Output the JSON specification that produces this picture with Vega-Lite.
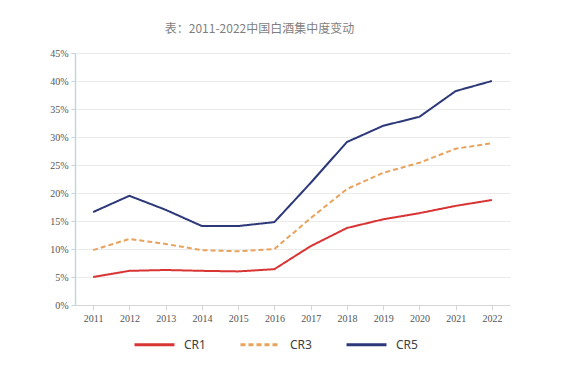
{
  "$schema": "https://vega.github.io/schema/vega-lite/v6.json",
  "width": 435,
  "height": 252,
  "autosize": {"type": "none"},
  "padding": {"left": 75, "top": 53, "right": 57, "bottom": 72},
  "background": "white",
  "title": {
    "text": "表：2011-2022中国白酒集中度变动",
    "font": "Noto Sans CJK SC",
    "fontSize": 12,
    "fontWeight": "normal",
    "color": "#7f7f7f",
    "anchor": "middle",
    "dx": -33,
    "offset": 12
  },
  "data": {
    "values": [
      {"year": "2011", "series": "CR1", "value": 0.050},
      {"year": "2012", "series": "CR1", "value": 0.061},
      {"year": "2013", "series": "CR1", "value": 0.0625},
      {"year": "2014", "series": "CR1", "value": 0.061},
      {"year": "2015", "series": "CR1", "value": 0.060},
      {"year": "2016", "series": "CR1", "value": 0.064},
      {"year": "2017", "series": "CR1", "value": 0.105},
      {"year": "2018", "series": "CR1", "value": 0.1375},
      {"year": "2019", "series": "CR1", "value": 0.153},
      {"year": "2020", "series": "CR1", "value": 0.164},
      {"year": "2021", "series": "CR1", "value": 0.177},
      {"year": "2022", "series": "CR1", "value": 0.1875},
      {"year": "2011", "series": "CR3", "value": 0.098},
      {"year": "2012", "series": "CR3", "value": 0.118},
      {"year": "2013", "series": "CR3", "value": 0.109},
      {"year": "2014", "series": "CR3", "value": 0.098},
      {"year": "2015", "series": "CR3", "value": 0.096},
      {"year": "2016", "series": "CR3", "value": 0.100},
      {"year": "2017", "series": "CR3", "value": 0.155},
      {"year": "2018", "series": "CR3", "value": 0.207},
      {"year": "2019", "series": "CR3", "value": 0.236},
      {"year": "2020", "series": "CR3", "value": 0.254},
      {"year": "2021", "series": "CR3", "value": 0.279},
      {"year": "2022", "series": "CR3", "value": 0.289},
      {"year": "2011", "series": "CR5", "value": 0.166},
      {"year": "2012", "series": "CR5", "value": 0.195},
      {"year": "2013", "series": "CR5", "value": 0.170},
      {"year": "2014", "series": "CR5", "value": 0.141},
      {"year": "2015", "series": "CR5", "value": 0.141},
      {"year": "2016", "series": "CR5", "value": 0.148},
      {"year": "2017", "series": "CR5", "value": 0.218},
      {"year": "2018", "series": "CR5", "value": 0.291},
      {"year": "2019", "series": "CR5", "value": 0.320},
      {"year": "2020", "series": "CR5", "value": 0.336},
      {"year": "2021", "series": "CR5", "value": 0.382},
      {"year": "2022", "series": "CR5", "value": 0.400}
    ]
  },
  "mark": {"type": "line", "strokeWidth": 2},
  "encoding": {
    "x": {
      "field": "year",
      "type": "ordinal",
      "scale": {"type": "point", "padding": 0.5},
      "axis": {
        "title": null,
        "labelAngle": 0,
        "labelFont": "Liberation Serif",
        "labelFontSize": 10,
        "labelColor": "#555555",
        "labelPadding": 3,
        "tickSize": 5,
        "tickColor": "#d6d6d6",
        "domainColor": "#d6d6d6",
        "grid": false
      }
    },
    "y": {
      "field": "value",
      "type": "quantitative",
      "scale": {"domain": [0, 0.45], "nice": false},
      "axis": {
        "title": null,
        "values": [0, 0.05, 0.1, 0.15, 0.2, 0.25, 0.3, 0.35, 0.4, 0.45],
        "format": ".0%",
        "labelFont": "Liberation Serif",
        "labelFontSize": 10,
        "labelColor": "#555555",
        "labelPadding": 3,
        "tickSize": 4,
        "tickColor": "#c5d5da",
        "domainColor": "#c5d5da",
        "domainWidth": 1.5,
        "gridColor": "#ebebeb"
      }
    },
    "color": {
      "field": "series",
      "type": "nominal",
      "scale": {"domain": ["CR1", "CR3", "CR5"], "range": ["#d83434", "#e8a25c", "#2c3878"]},
      "legend": {
        "title": null,
        "orient": "none",
        "direction": "horizontal",
        "legendX": 58,
        "legendY": 270,
        "symbolType": "stroke",
        "symbolSize": 1600,
        "symbolStrokeWidth": 3,
        "labelFont": "Noto Sans",
        "labelFontSize": 12,
        "labelColor": "#404040",
        "labelOffset": 8,
        "columnPadding": 28
      }
    },
    "strokeDash": {
      "field": "series",
      "type": "nominal",
      "scale": {"domain": ["CR1", "CR3", "CR5"], "range": [[1, 0], [5, 3], [1, 0]]},
      "legend": {
        "title": null,
        "orient": "none",
        "direction": "horizontal",
        "legendX": 58,
        "legendY": 270,
        "symbolType": "stroke",
        "symbolSize": 1600,
        "symbolStrokeWidth": 3,
        "labelFont": "Noto Sans",
        "labelFontSize": 12,
        "labelColor": "#404040",
        "labelOffset": 8,
        "columnPadding": 28
      }
    }
  },
  "config": {"view": {"stroke": null}}
}
